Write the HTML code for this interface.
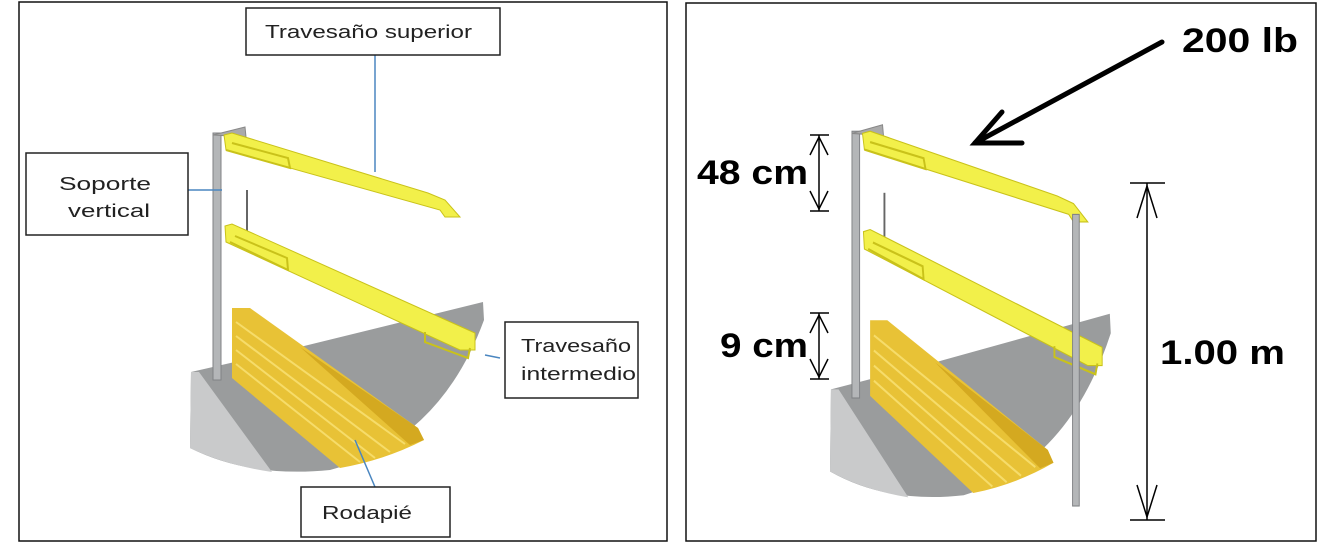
<!DOCTYPE html>
<html><head><style>
html,body{margin:0;padding:0;background:#fff;}
svg{display:block}
text{font-family:"Liberation Sans",sans-serif;}
</style></head><body>
<svg width="1324" height="550" viewBox="0 0 1324 550" xmlns="http://www.w3.org/2000/svg">
<defs>
<g id="rail">
  <path d="M191,372 L300,347 L483,302 L484,320 Q440,440 330,470 Q250,478 190,448 Z" fill="#9a9c9d"/>
  <path d="M191,372 L199,372 L272,472 Q225,465 190,448 Z" fill="#c9cacb"/>
  <path d="M232,308 L250,308 L418,428 L424,440 Q385,460 340,468 L232,378 Z" fill="#e8c236"/>
  <g stroke="#f6dc6a" stroke-width="2">
    <line x1="236" y1="322" x2="405" y2="444"/>
    <line x1="236" y1="336" x2="390" y2="452"/>
    <line x1="236" y1="350" x2="375" y2="458"/>
    <line x1="236" y1="364" x2="360" y2="462"/>
  </g>
  <path d="M300,347 L418,428 L424,440 L410,445 Z" fill="#d4a920"/>
  <rect x="213" y="133" width="8" height="247" fill="#b4b6b8" stroke="#808285" stroke-width="1"/>
  <line x1="247" y1="190" x2="247" y2="232" stroke="#666" stroke-width="2"/>
  <path d="M213,135 L245,127 L246,137 Z" fill="#aaa" stroke="#888"/>
  <path d="M224,135 L232,133 L428,193 L445,200 L460,217 L445,217 L440,210 L226,150 Z" fill="#f2f04a" stroke="#c9c21a" stroke-width="1"/>
  <path d="M226,150 L290,168 L288,158 L232,143" fill="none" stroke="#c9c21a" stroke-width="2"/>
  <path d="M225,226 L232,224 L475,333 L475,350 L460,350 L226,242 Z" fill="#f2f04a" stroke="#c9c21a" stroke-width="1"/>
  <path d="M230,242 L288,270 L287,258 L235,236" fill="none" stroke="#c9c21a" stroke-width="2"/>
  <path d="M425,332 L425,342 L468,358 L470,348" fill="none" stroke="#c9c21a" stroke-width="2"/>
</g>
</defs>
<rect x="19" y="2" width="648" height="539" fill="#fff" stroke="#111" stroke-width="1.5"/>
<use href="#rail"/>
<g stroke="#4a86c0" stroke-width="1.5">
  <line x1="375" y1="55" x2="375" y2="172"/>
  <line x1="188" y1="190" x2="222" y2="190"/>
  <line x1="485" y1="355" x2="500" y2="358"/>
  <line x1="355" y1="440" x2="375" y2="487"/>
</g>
<g fill="#fff" stroke="#222" stroke-width="1.5">
  <rect x="246" y="8" width="254" height="47"/>
  <rect x="26" y="153" width="162" height="82"/>
  <rect x="505" y="322" width="133" height="76"/>
  <rect x="301" y="487" width="149" height="50"/>
</g>
<g font-size="18" fill="#222">
  <text x="265" y="38" textLength="207" lengthAdjust="spacingAndGlyphs">Travesaño superior</text>
  <text x="59" y="190" textLength="92" lengthAdjust="spacingAndGlyphs">Soporte</text>
  <text x="68" y="217" textLength="82" lengthAdjust="spacingAndGlyphs">vertical</text>
  <text x="521" y="352" textLength="110" lengthAdjust="spacingAndGlyphs">Travesaño</text>
  <text x="521" y="380" textLength="115" lengthAdjust="spacingAndGlyphs">intermedio</text>
  <text x="322" y="519" textLength="90" lengthAdjust="spacingAndGlyphs">Rodapié</text>
</g>
<rect x="686" y="3" width="630" height="538" fill="#fff" stroke="#111" stroke-width="1.5"/>
<g transform="translate(830,128) scale(0.955,1.08) translate(-190,-130)">
  <use href="#rail"/>
  <rect x="444" y="210" width="7" height="270" fill="#b4b6b8" stroke="#808285"/>
</g>
<g stroke="#000" stroke-width="5" stroke-linecap="round" fill="none">
  <line x1="1162" y1="42" x2="975" y2="143"/>
  <polyline points="1002,112 975,143 1022,143"/>
</g>
<g font-size="34" font-weight="bold">
  <text x="1182" y="52" textLength="116" lengthAdjust="spacingAndGlyphs">200 lb</text>
</g>
<g stroke="#000" stroke-width="1.5" fill="none">
  <line x1="810" y1="135" x2="829" y2="135"/><line x1="810" y1="211" x2="829" y2="211"/>
  <line x1="819" y1="135" x2="819" y2="211"/>
  <polyline points="810,155 819,137 828,155"/><polyline points="810,191 819,209 828,191"/>
  <line x1="810" y1="313" x2="829" y2="313"/><line x1="810" y1="379" x2="829" y2="379"/>
  <line x1="819" y1="313" x2="819" y2="379"/>
  <polyline points="810,333 819,315 828,333"/><polyline points="810,359 819,377 828,359"/>
  <line x1="1130" y1="183" x2="1165" y2="183"/><line x1="1130" y1="520" x2="1165" y2="520"/>
  <line x1="1147" y1="183" x2="1147" y2="520"/>
  <polyline points="1137,218 1147,186 1157,218"/><polyline points="1137,485 1147,517 1157,485"/>
</g>
<g font-size="34" font-weight="bold">
  <text x="697" y="184" textLength="111" lengthAdjust="spacingAndGlyphs">48 cm</text>
  <text x="720" y="357" textLength="88" lengthAdjust="spacingAndGlyphs">9 cm</text>
  <text x="1160" y="364" textLength="125" lengthAdjust="spacingAndGlyphs">1.00 m</text>
</g>
</svg>
</body></html>
